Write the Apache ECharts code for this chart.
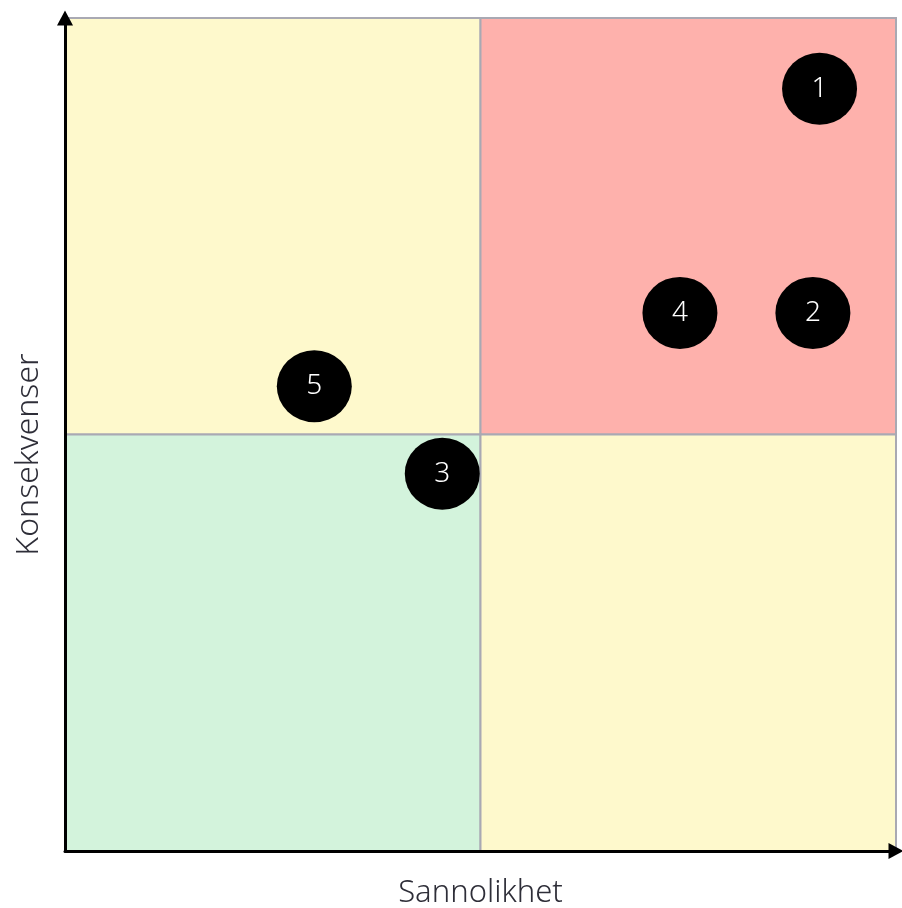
<!DOCTYPE html>
<html>
<head>
<meta charset="utf-8">
<script src="https://cdn.jsdelivr.net/npm/echarts@6/dist/echarts.min.js"></script>
<style>
    html, body { margin: 0; padding: 0; background: #fff; }
    #chart { width: 902px; height: 908px; }
</style>
</head>
<body>
<div id="chart"></div>
<script>
    // risikopunkter: nr, sannolikhet, konsekvens
    var labels = ['1', '2', '3', '4', '5'];
    var sannolikhet = [9.08, 9.0, 4.54, 7.4, 3.0];
    var konsekvens = [9.15, 6.46, 4.53, 6.46, 5.58];

    // kvadranter: [xFra, yFra, xTil, yTil, farge]
    var kvadranter = [
        [0, 5, 5, 10, '#fef9cc'],
        [5, 5, 10, 10, '#feb1ac'],
        [0, 0, 5, 5, '#d3f3dc'],
        [5, 0, 10, 5, '#fef9cc']
    ];

    var points = [];
    for (var i = 0; i < labels.length; i++) {
        points.push({ value: [sannolikhet[i], konsekvens[i]], name: labels[i] });
    }

    var areas = kvadranter.map(function (q) {
        return [
            { xAxis: q[0], yAxis: q[1], itemStyle: { color: q[4], opacity: 1 } },
            { xAxis: q[2], yAxis: q[3] }
        ];
    });

    function axisLine() {
        return {
            show: true, symbol: ['none', 'triangle'], symbolSize: [16, 15],
            lineStyle: { color: '#000', width: 3 }
        };
    }

    var chart = echarts.init(document.getElementById('chart'));
    chart.setOption({
        animation: false,
        grid: { left: 65, right: 6, top: 18, bottom: 57, outerBoundsMode: 'none' },
        xAxis: {
            type: 'value', min: 0, max: 10, z: 10,
            name: 'Sannolikhet', nameLocation: 'middle', nameGap: 27,
            nameTextStyle: { fontSize: 31, color: '#2e2e38', fontFamily: 'Noto Sans', fontWeight: 300 },
            axisLine: axisLine(),
            axisTick: { show: false }, axisLabel: { show: false }, splitLine: { show: false }
        },
        yAxis: {
            type: 'value', min: 0, max: 10, z: 10,
            name: 'Konsekvenser', nameLocation: 'middle', nameGap: 20,
            nameTextStyle: { fontSize: 32, color: '#2e2e38', fontFamily: 'Noto Sans', fontWeight: 300,
                padding: [0, 40, 0, 0] },
            axisLine: axisLine(),
            axisTick: { show: false }, axisLabel: { show: false }, splitLine: { show: false }
        },
        series: [{
            // kvadrantene i bakgrunnen
            type: 'scatter',
            data: [],
            z: 1,
            markArea: {
                silent: true,
                itemStyle: { borderColor: '#a9a9b3', borderWidth: 2 },
                data: areas
            }
        }, {
            type: 'scatter',
            data: points,
            symbol: 'circle',
            symbolSize: [75, 72],
            itemStyle: { color: '#000', opacity: 1 },
            label: {
                show: true, position: 'inside', formatter: '{b}',
                color: '#fff', fontSize: 28, fontFamily: 'Noto Sans', fontWeight: 300
            },
            z: 5
        }]
    });
</script>
</body>
</html>
